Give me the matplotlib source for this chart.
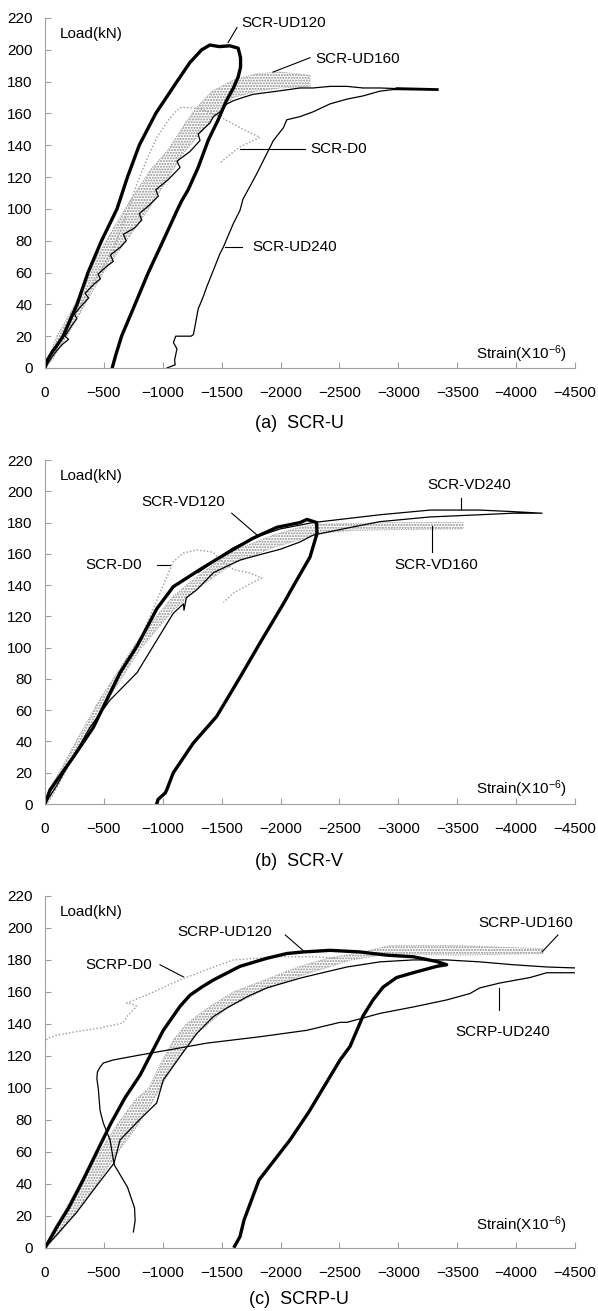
import matplotlib
matplotlib.use("Agg")
import matplotlib.pyplot as plt

plt.rcParams['font.family'] = ['Liberation Sans', 'DejaVu Sans']
plt.rcParams['mathtext.default'] = 'regular'
plt.rcParams['hatch.linewidth'] = 1.0

# ---------------- (a) SCR-U ----------------
a_ud120_strain = [0, -20, -60, -100, -153, -272, -365, -480, -611, -700, -800, -940, -1120,
                  -1230, -1330, -1400, -1480, -1570, -1640, -1660, -1660, -1640, -1600, -1540,
                  -1470, -1385, -1300, -1215, -1160, -1127, -1003, -877, -764, -650, -600, -570]
a_ud120_load = [0, 5, 10, 14, 20, 40, 60, 80, 100, 120, 140, 160, 180,
                192, 200, 203, 202, 202.5, 201, 195, 189, 183, 176, 168,
                156, 143, 126, 112, 105, 100, 80, 60, 40, 20, 8, 0]

a_ud160_strain = [0, -100, -255, -365, -520, -720, -900, -1045, -1200, -1290, -1420, -1600,
                  -1800, -2000, -2250, -2250, -2000, -1800, -1600, -1460, -1300, -1163,
                  -1035, -880, -690, -495, -340, -185, -60, 0]
a_ud160_load = [0, 20, 40, 60, 80, 105, 125, 137, 155, 164, 174, 181,
                185, 186, 184, 177, 176, 174, 170, 160, 146, 134,
                118, 100, 80, 60, 40, 20, 5, 0]

a_d0_strain = [0, -50, -100, -300, -577, -700, -781, -870, -950, -1050, -1120, -1160,
               -1316, -1486, -1655, -1825, -1740, -1655, -1570, -1486]
a_d0_load = [0, 5, 13, 40, 74, 98, 116, 132, 145, 156, 162, 164,
             163, 158, 151, 145, 142, 139, 134, 129]

a_line_strain = [0, -50, -100, -150, -200, -170, -230, -270, -250, -320, -370, -340, -420,
                 -470, -450, -525, -580, -555, -640, -690, -665, -760, -821, -800, -880,
                 -962, -940, -1040, -1146, -1120, -1230, -1316, -1300, -1400, -1429, -1486,
                 -1545, -1600, -1680, -1766, -1870, -1970, -2070, -2165, -2276, -2420,
                 -2564, -2700, -2844, -2988, -3330]
a_line_load = [0, 6, 11, 15, 18, 20, 27, 31, 34, 40, 44, 47, 53,
               56, 59, 64, 67, 71, 76, 80, 84, 88, 93, 97, 102,
               108, 112, 118, 126, 130, 136, 143, 147, 154, 158, 161,
               166, 168, 170, 172, 173, 174, 175, 176, 176, 177,
               177, 176, 176, 175.6, 175]

a_ud240_strain = [-1035, -1105, -1100, -1120, -1090, -1110, -1240, -1260, -1300, -1344, -1373,
                  -1486, -1514, -1600, -1655, -1680, -1797, -1939, -2024, -2052, -2165, -2276,
                  -2420, -2564, -2700, -2844, -2955, -3330]
a_ud240_load = [0, 2, 5, 12, 16, 20, 20, 21, 37, 45, 51,
                72, 76, 91, 99, 106, 122, 143, 151, 156, 158, 161,
                166, 169, 171, 174, 175, 175]

# ---------------- (b) SCR-V ----------------
b_vd120_strain = [0, -42, -240, -410, -637, -781, -950, -1089, -1316, -1545, -1766, -1970,
                  -2165, -2224, -2306, -2309, -2250, -2105, -2023, -1825, -1655, -1457, -1259,
                  -1089, -1033, -1020, -960, -948]
b_vd120_load = [0, 9, 30, 49, 84, 101, 125, 139, 150, 160.5, 170, 177,
                180, 182, 180, 173, 158, 139, 128, 103, 81, 56, 39,
                20, 9, 7, 3, 0]

b_vd160_strain = [0, -42, -441, -807, -1089, -1316, -1486, -1600, -1936, -2165, -2335, -2600,
                  -3000, -3550]
b_vd160_hi = [0, 10, 64, 107, 133, 147, 156, 162, 172, 177, 179, 179.5, 180, 180]
b_vd160_lo = [0, 4, 56, 99, 124, 139, 148, 154, 164, 169, 173, 175, 175.5, 176]

b_d0_strain = [0, -42, -300, -526, -807, -1089, -1175, -1288, -1430, -1486, -1600, -1740,
               -1840, -1770, -1600, -1515]
b_d0_load = [0, 2.5, 38, 66, 105, 155, 160.5, 162.5, 161, 156, 150, 147.7,
             144.5, 142, 135, 129]

b_vd240_strain = [0, -100, -382, -552, -781, -951, -1089, -1175, -1180, -1200, -1288, -1430,
                  -1655, -1800, -2000, -2165, -2276, -2600, -2844, -3270, -3690, -3975, -4220,
                  -3975, -3690, -3270, -2844, -2276, -2000, -1800, -1600, -1430, -1300]
b_vd240_load = [0, 12, 49, 66.5, 84, 105, 122, 128, 124, 132, 137, 148,
                156, 159, 163, 167.6, 172, 177, 180.6, 183.6, 185, 186, 186,
                187, 188, 188, 185, 180, 176, 171, 164, 155, 148]

# ---------------- (c) SCRP-U ----------------
c_ud120_strain = [0, -100, -200, -320, -453, -560, -680, -807, -891, -1004, -1146, -1231,
                  -1330, -1430, -1655, -1882, -2052, -2192, -2420, -2674, -2900, -3126,
                  -3326, -3410, -3326, -3126, -2985, -2870, -2785, -2700, -2590, -2505,
                  -2403, -2240, -2080, -1817, -1690, -1655, -1609]
c_ud120_load = [0, 13, 25, 42, 62, 78, 94, 108, 120, 136, 151, 158,
                163, 167.5, 176, 181, 184, 185, 186, 185, 183, 182,
                179, 177, 176, 172, 169, 163, 155, 145, 126, 117.5,
                105, 85, 67.5, 42.5, 17.5, 7, 1]

c_ud160_strain = [0, -60, -180, -330, -480, -620, -760, -880, -980, -1089, -1200, -1400,
                  -1600, -1882, -2165, -2400, -2700, -2929, -3500, -4228,
                  -4228, -3500, -2929, -2600, -2165, -1882, -1545, -1288, -1146, -1000,
                  -900, -780, -620, -440, -260, -110, 0]
c_ud160_load = [0, 10, 25, 45, 62, 78, 92, 100, 115, 130, 140, 151,
                160, 168, 176, 181, 185, 189, 189, 187,
                184, 183, 184, 180, 170, 162, 150, 134, 120, 103,
                90, 76, 60, 40, 22, 8, 0]

c_d0_strain = [0, -20, -100, -250, -467, -663, -700, -778, -740, -693, -760, -891, -1146,
               -1373, -1600, -1995, -2276, -2500]
c_d0_load = [128, 131, 133, 135, 137.5, 140.6, 145, 151, 152.5, 153, 155, 159, 167.5,
             174, 180, 182, 182, 181]

c_line_strain = [0, -266, -450, -586, -637, -800, -948, -1004, -1146, -1288, -1429, -1545,
                 -1715, -1882, -2165, -2276, -2564, -2844, -3126, -3410, -3690, -3975,
                 -4260, -4500]
c_line_load = [0, 22, 40, 53, 67.5, 80, 90.6, 105, 119.6, 134, 144.6, 150,
               157, 162.5, 168.6, 170.6, 175.6, 178.8, 180, 180, 178.8, 177,
               175.6, 175]

c_ud240_strain = [-750, -765, -760, -700, -587, -552, -495, -467, -453, -440, -445, -467,
                  -495, -580, -807, -1146, -1373, -1825, -2222, -2505, -2564, -2844, -3126,
                  -3410, -3608, -3690, -3863, -4118, -4260, -4500]
c_ud240_load = [10, 17, 25, 38, 52, 67.5, 78, 86, 99, 106, 110, 113,
                115.6, 117.5, 120.6, 125, 128, 132, 136, 141, 141, 146.6, 150.6,
                155, 159, 162.5, 165.6, 169, 172, 172]

# labels: (text, text x, text y, leader x0, y0, x1, y1)
a_labels = [("SCR-UD120", -1664, 217, -1554, 204.5, -1630, 214),
            ("SCR-UD160", -2292, 194, -1936, 186, -2250, 195),
            ("SCR-D0", -2250, 137.5, -1655, 137.5, -2207, 137.5),
            ("SCR-UD240", -1757, 76, -1528, 76, -1672, 76)]
b_labels = [("SCR-VD120", -822, 193, -1800, 172, -1585, 186),
            ("SCR-D0", -340, 153, -950, 153, -1060, 153),
            ("SCR-VD240", -3250, 204, -3530, 196, -3530, 188.5),
            ("SCR-VD160", -2970, 153, -3285, 178, -3285, 161)]
c_labels = [("SCRP-UD120", -1120, 197.5, -2040, 195.6, -2190, 186),
            ("SCRP-D0", -340, 177, -976, 177, -1175, 169.4),
            ("SCRP-UD160", -3676, 203, -4355, 195.6, -4220, 185),
            ("SCRP-UD240", -3480, 135, -3855, 162.5, -3855, 148.75)]

captions = ["(a)  SCR-U", "(b)  SCR-V", "(c)  SCRP-U"]
xticks = [0, -500, -1000, -1500, -2000, -2500, -3000, -3500, -4000, -4500]
yticks = list(range(0, 221, 20))

STIP = '#8c8c8c'
DOT = '#9a9a9a'


def setup(ax, strain_y):
    ax.set_xlim(0, -4500)
    ax.set_ylim(0, 220)
    ax.set_xticks(xticks)
    ax.set_yticks(yticks)
    for s in ['top', 'right']:
        ax.spines[s].set_visible(False)
    for s in ['left', 'bottom']:
        ax.spines[s].set_color('#a0a0a0')
        ax.spines[s].set_linewidth(0.8)
    ax.tick_params(direction='in', length=4, color='#a0a0a0', labelsize=11)
    ax.tick_params(axis='x', pad=13)
    ax.tick_params(axis='y', pad=9)
    ax.text(0.028, 0.955, "Load(kN)", transform=ax.transAxes, fontsize=11, va='center')
    ax.text(0.985, strain_y, "Strain(X10$^{-6}$)", transform=ax.transAxes, fontsize=11,
            ha='right', va='center')


def band(ax, x, y):
    ax.fill(x, y, facecolor='none', edgecolor=STIP, hatch='......', linewidth=0)
    ax.plot(x, y, color=DOT, lw=0.7, ls=(0, (1, 1.5)))


def labels(ax, items):
    for t, tx, ty, x0, y0, x1, y1 in items:
        ax.plot([x0, x1], [y0, y1], color='black', lw=0.8)
        ax.text(tx, ty, t, fontsize=11, ha='left', va='center')


fig = plt.figure(figsize=(5.98, 13.11), dpi=100)
ax_a = fig.add_axes([0.0753, 0.7193, 0.8863, 0.267])
ax_b = fig.add_axes([0.0753, 0.3867, 0.8863, 0.2624])
ax_c = fig.add_axes([0.0753, 0.0481, 0.8863, 0.2685])

# (a)
setup(ax_a, 0.038)
band(ax_a, a_ud160_strain, a_ud160_load)
ax_a.plot(a_d0_strain, a_d0_load, color=DOT, lw=1.0, ls=(0, (1, 1.5)))
ax_a.plot(a_line_strain, a_line_load, color='black', lw=0.9)
ax_a.plot(a_line_strain[-2:], a_line_load[-2:], color='black', lw=2)
ax_a.plot(a_ud240_strain, a_ud240_load, color='black', lw=0.9)
ax_a.plot(a_ud120_strain, a_ud120_load, color='black', lw=2.4)
labels(ax_a, a_labels)

# (b)
setup(ax_b, 0.042)
band(ax_b, b_vd160_strain + b_vd160_strain[::-1], b_vd160_hi + b_vd160_lo[::-1])
ax_b.plot(b_d0_strain, b_d0_load, color=DOT, lw=1.0, ls=(0, (1, 1.5)))
ax_b.plot(b_vd240_strain, b_vd240_load, color='black', lw=0.9)
ax_b.plot(b_vd120_strain, b_vd120_load, color='black', lw=2.4)
labels(ax_b, b_labels)

# (c)
setup(ax_c, 0.065)
band(ax_c, c_ud160_strain, c_ud160_load)
ax_c.plot(c_d0_strain, c_d0_load, color=DOT, lw=1.0, ls=(0, (1, 1.5)))
ax_c.plot(c_line_strain, c_line_load, color='black', lw=0.9)
ax_c.plot(c_ud240_strain, c_ud240_load, color='black', lw=0.9)
ax_c.plot(c_ud120_strain, c_ud120_load, color='black', lw=2.4)
labels(ax_c, c_labels)

for ypos, cap in zip([1 - 423 / 1311, 1 - 862 / 1311, 1 - 1299 / 1311], captions):
    fig.text(0.5, ypos, cap, fontsize=13, ha='center', va='center')

fig.savefig("out.png", dpi=100)
